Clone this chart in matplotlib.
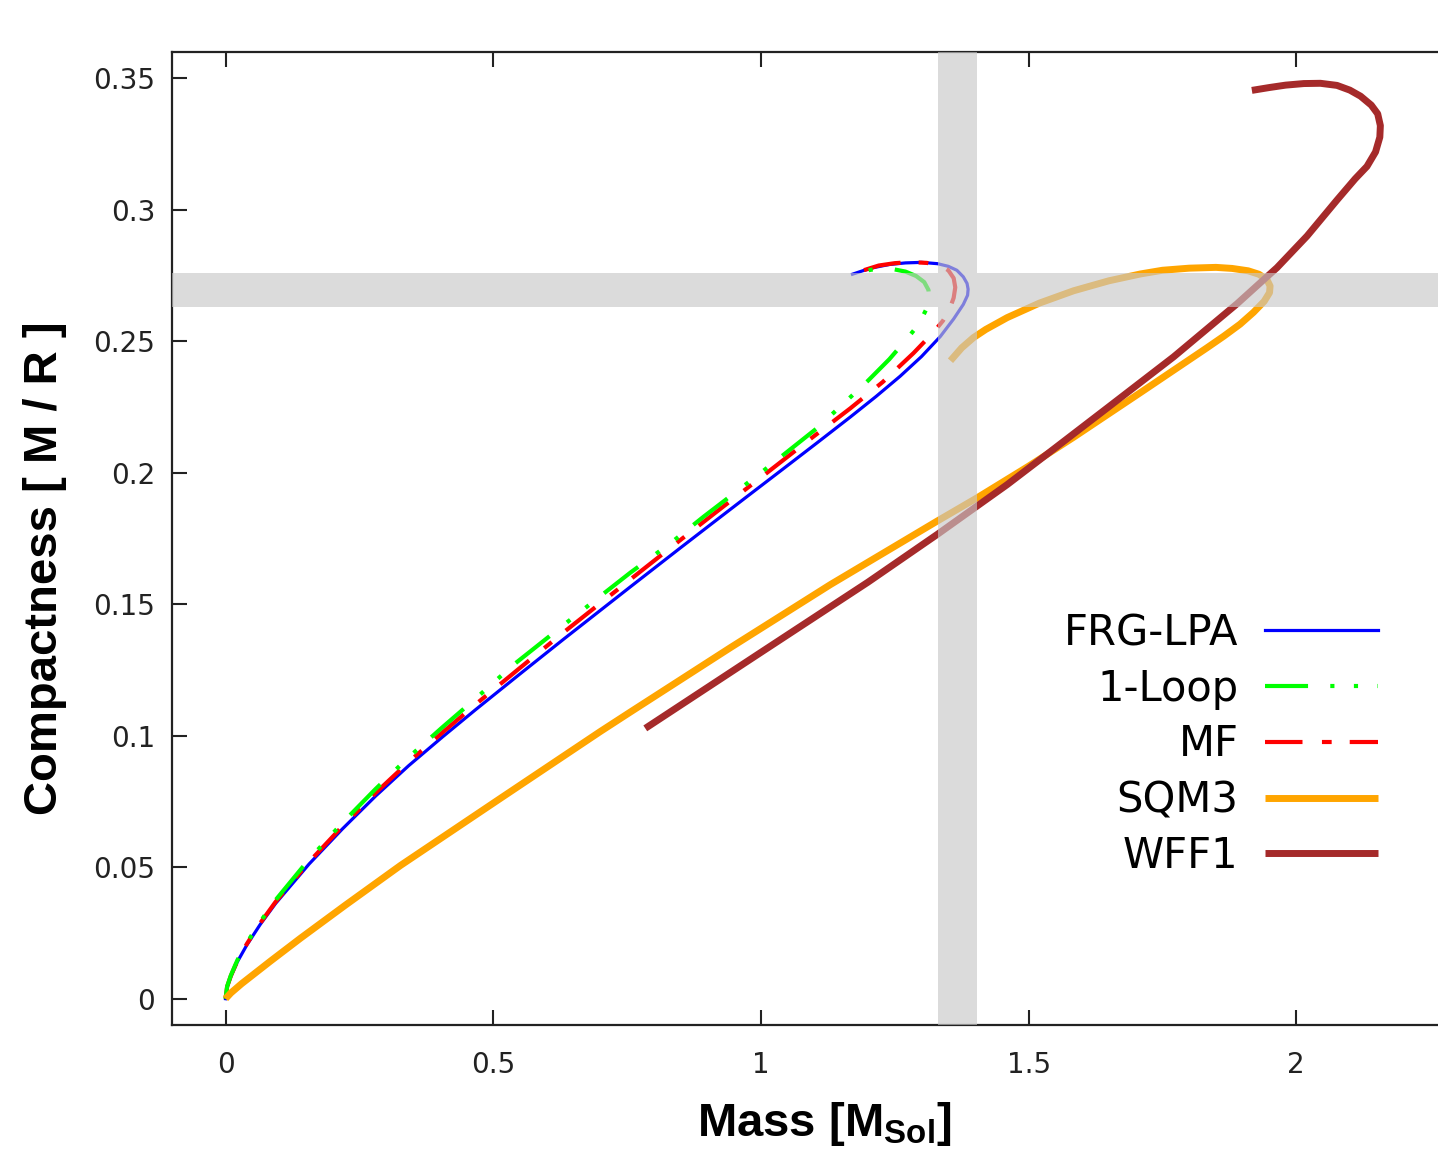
import matplotlib
matplotlib.use('Agg')
import matplotlib.pyplot as plt

plt.rcParams['lines.scale_dashes'] = False
plt.rcParams['mathtext.fontset'] = 'custom'
plt.rcParams['mathtext.bf'] = 'Liberation Sans:bold'

# FRG-LPA
frg_mass = [0, 0.003, 0.01, 0.022, 0.04, 0.065, 0.0934, 0.156, 0.218, 0.28, 0.342, 0.405,
            0.467, 0.55, 0.632, 0.756, 0.85, 0.906, 0.975, 1.043, 1.105, 1.167, 1.215, 1.26,
            1.30, 1.335, 1.36, 1.378, 1.386, 1.387, 1.385, 1.378, 1.366, 1.35, 1.33, 1.30,
            1.27, 1.24, 1.21, 1.19, 1.171]
frg_comp = [0, 0.0045, 0.0085, 0.014, 0.0205, 0.0283, 0.0362, 0.0512, 0.0645, 0.077, 0.0886, 0.0995,
            0.1099, 0.1235, 0.1368, 0.1566, 0.1715, 0.1803, 0.1911, 0.2017, 0.2114, 0.2212, 0.229,
            0.2367, 0.2442, 0.2518, 0.2585, 0.264, 0.2675, 0.2698, 0.272, 0.2745, 0.277, 0.2785,
            0.2795, 0.280, 0.2798, 0.2792, 0.278, 0.2768, 0.2755]

# 1-Loop
loop_mass = [0, 0.003, 0.01, 0.022, 0.04, 0.065, 0.0934, 0.156, 0.218, 0.28, 0.342, 0.405, 0.467,
             0.538, 0.632, 0.756, 0.831, 0.893, 1.0, 1.105, 1.15, 1.2, 1.24, 1.273, 1.295, 1.308,
             1.314, 1.313, 1.305, 1.29, 1.27, 1.245, 1.22, 1.195, 1.171]
loop_comp = [0, 0.0047, 0.0089, 0.0146, 0.0213, 0.0293, 0.0375, 0.053, 0.0668, 0.0797, 0.0918, 0.1032,
             0.1141, 0.127, 0.1422, 0.162, 0.1732, 0.1833, 0.2, 0.217, 0.2255, 0.235, 0.2432, 0.251,
             0.2565, 0.2618, 0.2662, 0.2695, 0.2725, 0.2748, 0.2765, 0.2775, 0.2777, 0.2768, 0.2755]

# MF
mf_mass = [0, 0.003, 0.01, 0.022, 0.04, 0.065, 0.0934, 0.156, 0.218, 0.28, 0.342, 0.405, 0.467,
           0.55, 0.632, 0.756, 0.85, 0.918, 1.0, 1.092, 1.167, 1.2275, 1.285, 1.3227, 1.34, 1.352,
           1.36, 1.363, 1.36, 1.35, 1.335, 1.31, 1.28, 1.25, 1.22, 1.195, 1.171]
mf_comp = [0, 0.0046, 0.0087, 0.0143, 0.0209, 0.0288, 0.0368, 0.052, 0.0655, 0.0782, 0.09, 0.1012,
           0.1119, 0.1258, 0.1394, 0.1594, 0.1745, 0.1853, 0.1982, 0.2128, 0.2245, 0.2345, 0.2455,
           0.2535, 0.2578, 0.262, 0.2665, 0.2705, 0.274, 0.277, 0.2788, 0.2798, 0.2801, 0.2797,
           0.2788, 0.2772, 0.2758]

# SQM3
sqm_mass = [0, 0.01, 0.03, 0.084, 0.14, 0.224, 0.327, 0.5135, 0.70, 0.756, 0.943, 1.13, 1.329,
            1.404, 1.5, 1.584, 1.709, 1.833, 1.865, 1.895, 1.92, 1.94, 1.95, 1.951, 1.945, 1.93,
            1.91, 1.88, 1.85, 1.80, 1.75, 1.709, 1.65, 1.584, 1.52, 1.46, 1.42, 1.397, 1.375, 1.354]
sqm_comp = [0, 0.0022, 0.0057, 0.0143, 0.023, 0.0356, 0.0507, 0.0762, 0.1016, 0.109, 0.1335, 0.1575,
            0.1816, 0.1905, 0.2025, 0.2135, 0.2305, 0.2475, 0.252, 0.2565, 0.261, 0.2652, 0.2685,
            0.271, 0.2735, 0.2755, 0.2768, 0.2777, 0.2781, 0.2778, 0.277, 0.2756, 0.273, 0.2692,
            0.2645, 0.259, 0.2545, 0.2514, 0.2475, 0.2426]

# WFF1
wff_mass = [0.784, 1.0, 1.2, 1.329, 1.46, 1.534, 1.646, 1.771, 1.889, 1.964, 2.02, 2.076, 2.11,
            2.132, 2.148, 2.156, 2.157, 2.152, 2.14, 2.12, 2.1, 2.076, 2.045, 2.014, 1.98, 1.95, 1.917]
wff_comp = [0.1028, 0.1317, 0.1584, 0.1765, 0.1955, 0.207, 0.2245, 0.2441, 0.2642, 0.278, 0.290,
            0.3037, 0.3118, 0.3165, 0.322, 0.3276, 0.332, 0.3365, 0.3398, 0.3432, 0.3455, 0.3473,
            0.3481, 0.348, 0.3474, 0.3465, 0.3454]

# highlighted bands (mass and compactness ranges)
band_mass = (1.331, 1.404)
band_comp = (0.263, 0.276)

x_ticks = [0, 0.5, 1, 1.5, 2]
x_labels = ['0', '0.5', '1', '1.5', '2']
y_ticks = [0, 0.05, 0.1, 0.15, 0.2, 0.25, 0.3, 0.35]
y_labels = ['0', '0.05', '0.1', '0.15', '0.2', '0.25', '0.3', '0.35']

XLIM = (-0.1, 2.5)
YLIM = (-0.01, 0.36)

fig = plt.figure(figsize=(14.38, 11.54), dpi=100)
ax = fig.add_axes([172 / 1438, 129 / 1154, 1392 / 1438, 973 / 1154])

ax.plot(frg_mass, frg_comp, color='#0000ff', lw=2.3, label='FRG-LPA', zorder=2.0)
ax.plot(loop_mass, loop_comp, color='#00ff00', lw=3.0, ls=(0, (31, 16, 3, 14, 3, 14)),
        label='1-Loop', zorder=2.2)
ax.plot(mf_mass, mf_comp, color='#ff0000', lw=3.0, ls=(0, (27, 14, 7, 13)),
        label='MF', zorder=2.1)
ax.plot(sqm_mass, sqm_comp, color='#ffa500', lw=5, label='SQM3', zorder=2.3,
        solid_capstyle='butt')
ax.plot(wff_mass, wff_comp, color='#a52a2a', lw=5, label='WFF1', zorder=2.4,
        solid_capstyle='butt')

# translucent gray bands on top of curves; vertical band split so the crossing isn't doubled
band_kw = dict(color=(200 / 255, 200 / 255, 200 / 255), alpha=0.64, lw=0, zorder=3)
ax.axhspan(band_comp[0], band_comp[1], **band_kw)
f0 = (band_comp[0] - YLIM[0]) / (YLIM[1] - YLIM[0])
f1 = (band_comp[1] - YLIM[0]) / (YLIM[1] - YLIM[0])
ax.axvspan(band_mass[0], band_mass[1], ymin=0, ymax=f0, **band_kw)
ax.axvspan(band_mass[0], band_mass[1], ymin=f1, ymax=1, **band_kw)

ax.set_xlim(*XLIM)
ax.set_ylim(*YLIM)
ax.set_xticks(x_ticks)
ax.set_xticklabels(x_labels)
ax.set_yticks(y_ticks)
ax.set_yticklabels(y_labels)
ax.tick_params(axis='both', direction='in', length=11, width=1.5, labelsize=20,
               top=True, right=True, colors='#222222')
ax.tick_params(axis='x', pad=19)
ax.tick_params(axis='y', pad=12)
for sp in ax.spines.values():
    sp.set_linewidth(1.6)
    sp.set_color('#222222')

ax.set_xlabel(r'Mass [M$_{\mathbf{Sol}}$]', fontsize=34, fontweight='bold',
              family='Liberation Sans')
ax.set_ylabel('Compactness [ M / R ]', fontsize=34, fontweight='bold',
              family='Liberation Sans')
ax.xaxis.set_label_coords((1.119 - XLIM[0]) / (XLIM[1] - XLIM[0]), -0.077)
ax.yaxis.set_label_coords(-0.0754, 0.47)

leg = ax.legend(loc='upper right', bbox_to_anchor=(1378 / 1438, 1 - 612 / 1154),
                bbox_transform=fig.transFigure, frameon=False, markerfirst=False,
                fontsize=30, handlelength=2.7, handletextpad=0.65, labelspacing=0.33,
                borderpad=0, borderaxespad=0)
leg.set_zorder(5)

fig.savefig('out.png', dpi=100)
